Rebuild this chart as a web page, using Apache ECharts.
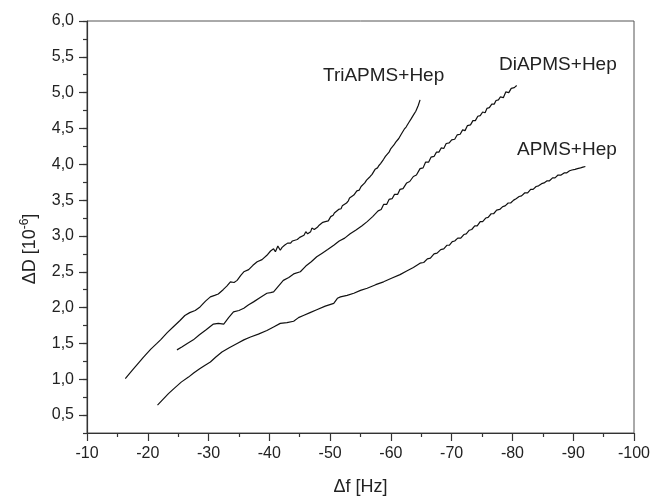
<!DOCTYPE html>
<html>
<head>
<meta charset="utf-8">
<script src="https://cdn.jsdelivr.net/npm/echarts@6/dist/echarts.min.js"></script>
<style>
html,body{margin:0;padding:0;background:#fff;}
#c{width:652px;height:496px;}
</style>
</head>
<body>
<div id="c"></div>
<script>
// ---- data (Δf [Hz], ΔD [10^-6]) ----
var seriesNames = ['TriAPMS+Hep', 'DiAPMS+Hep', 'APMS+Hep'];
var triAPMS = [
[-16.3,1.01],[-17.5,1.13],[-18.6,1.24],[-19.3,1.31],[-20.5,1.42],[-21.5,1.50],[-22.1,1.55],[-23.2,1.65],
[-24.3,1.74],[-25.3,1.82],[-26.1,1.89],[-26.9,1.93],[-27.8,1.96],[-28.6,2.01],[-29.5,2.09],[-30.3,2.15],
[-31.0,2.17],[-31.6,2.19],[-32.4,2.25],[-33.0,2.30],[-33.6,2.36],[-34.2,2.35],[-34.7,2.38],[-35.3,2.45],
[-35.8,2.50],[-36.6,2.53],[-37.3,2.59],[-38.0,2.64],[-38.8,2.67],[-39.6,2.73],[-40.2,2.79],[-40.7,2.82],
[-41.0,2.78],[-41.4,2.86],[-41.8,2.80],[-42.1,2.84],[-42.5,2.87],[-42.8,2.86],[-43.0,2.90],[-43.5,2.90],
[-43.8,2.93],[-44.0,2.91],[-44.6,2.95],[-45.0,2.98],[-45.2,2.96],[-45.7,3.01],[-46.0,3.06],[-46.3,3.03],
[-46.8,3.06],[-47.0,3.11],[-47.4,3.09],[-47.9,3.12],[-48.2,3.15],[-48.5,3.14],[-48.8,3.19],[-49.2,3.20],
[-49.5,3.22],[-49.7,3.21],[-50.1,3.27],[-50.5,3.29],[-50.7,3.32],[-51.0,3.30],[-51.4,3.37],[-51.8,3.38],
[-52.0,3.42],[-52.3,3.41],[-52.7,3.46],[-53.0,3.49],[-53.2,3.53],[-53.5,3.51],[-53.9,3.57],[-54.2,3.59],
[-54.4,3.63],[-54.8,3.64],[-55.1,3.69],[-55.3,3.67],[-55.7,3.74],[-56.0,3.78],[-56.2,3.76],[-56.6,3.83],
[-56.9,3.86],[-57.2,3.88],[-57.4,3.93],[-57.8,3.95],[-58.0,3.98],[-58.3,4.01],[-58.5,3.99],[-58.8,4.07],
[-59.1,4.11],[-59.3,4.09],[-59.7,4.17],[-60.0,4.22],[-60.2,4.20],[-60.5,4.27],[-60.8,4.31],[-61.0,4.30],
[-61.3,4.36],[-61.7,4.42],[-61.9,4.40],[-62.2,4.49],[-62.5,4.52],[-62.7,4.51],[-63.0,4.59],[-63.3,4.63],
[-63.5,4.61],[-63.8,4.70],[-64.1,4.74],[-64.3,4.72],[-64.5,4.82],[-64.8,4.90]
];
var diAPMS = [
[-24.8,1.41],[-25.6,1.45],[-26.5,1.50],[-27.5,1.55],[-28.5,1.62],[-29.6,1.69],[-30.8,1.77],[-31.6,1.78],
[-32.5,1.77],[-33.3,1.86],[-34.1,1.94],[-35.0,1.96],[-35.8,1.99],[-36.6,2.04],[-37.4,2.08],[-38.5,2.14],
[-39.6,2.20],[-40.2,2.21],[-40.7,2.22],[-41.5,2.30],[-42.3,2.38],[-43.2,2.42],[-44.0,2.47],[-45.1,2.50],
[-46.0,2.58],[-46.9,2.64],[-47.8,2.71],[-48.7,2.76],[-49.6,2.81],[-50.6,2.87],[-51.5,2.93],[-52.4,2.97],
[-53.3,3.03],[-54.2,3.08],[-55.2,3.14],[-56.1,3.20],[-57.0,3.27],[-57.9,3.35],[-58.4,3.37],[-58.8,3.44],
[-59.3,3.44],[-59.7,3.51],[-60.2,3.52],[-60.6,3.58],[-61.1,3.58],[-61.5,3.65],[-62.0,3.66],[-62.6,3.74],
[-63.1,3.76],[-63.7,3.83],[-64.2,3.85],[-64.8,3.94],[-65.3,3.95],[-65.7,4.03],[-66.2,4.03],[-66.6,4.10],
[-67.1,4.11],[-67.5,4.17],[-67.9,4.17],[-68.3,4.23],[-68.7,4.22],[-69.1,4.29],[-69.6,4.30],[-70.0,4.34],
[-70.5,4.35],[-70.9,4.41],[-71.4,4.42],[-71.8,4.48],[-72.2,4.47],[-72.6,4.54],[-73.1,4.55],[-73.5,4.61],
[-73.9,4.61],[-74.3,4.67],[-74.7,4.68],[-75.1,4.73],[-75.5,4.72],[-75.8,4.78],[-76.2,4.79],[-76.6,4.84],
[-77.0,4.84],[-77.3,4.89],[-77.7,4.90],[-78.0,4.94],[-78.5,4.93],[-78.9,5.01],[-79.4,5.00],[-79.8,5.06],
[-80.3,5.07],[-80.7,5.10]
];
var apms = [
[-21.6,0.64],[-22.5,0.72],[-23.4,0.80],[-24.3,0.87],[-25.5,0.96],[-26.7,1.03],[-27.6,1.09],[-28.6,1.15],
[-29.5,1.20],[-30.3,1.24],[-31.2,1.31],[-32.2,1.38],[-33.4,1.44],[-34.7,1.50],[-35.8,1.55],[-36.9,1.59],
[-38.2,1.63],[-39.6,1.68],[-40.7,1.73],[-41.8,1.78],[-42.9,1.79],[-44.0,1.81],[-44.8,1.86],[-45.6,1.89],
[-46.7,1.93],[-47.8,1.97],[-49.2,2.02],[-50.6,2.06],[-51.2,2.13],[-51.7,2.15],[-52.8,2.17],[-53.9,2.20],
[-55.0,2.24],[-56.1,2.27],[-57.5,2.32],[-58.8,2.36],[-60.1,2.41],[-61.5,2.46],[-62.6,2.51],[-63.7,2.56],
[-64.8,2.62],[-65.4,2.63],[-66.0,2.68],[-66.5,2.69],[-67.1,2.75],[-67.6,2.76],[-68.2,2.81],[-68.7,2.82],
[-69.2,2.87],[-69.6,2.87],[-70.1,2.92],[-70.5,2.93],[-71.0,2.97],[-71.5,2.97],[-72.0,3.02],[-72.4,3.03],
[-72.9,3.08],[-73.3,3.09],[-73.8,3.14],[-74.2,3.14],[-74.7,3.20],[-75.1,3.20],[-75.6,3.25],[-76.0,3.26],
[-76.5,3.31],[-76.9,3.31],[-77.4,3.36],[-77.9,3.37],[-78.4,3.41],[-78.8,3.42],[-79.3,3.46],[-79.7,3.46],
[-80.2,3.50],[-80.6,3.52],[-81.1,3.55],[-81.5,3.56],[-82.0,3.60],[-82.5,3.60],[-83.0,3.65],[-83.4,3.65],
[-83.9,3.69],[-84.3,3.70],[-84.8,3.73],[-85.2,3.74],[-85.7,3.77],[-86.1,3.77],[-86.6,3.81],[-87.0,3.81],
[-87.5,3.85],[-88.0,3.85],[-88.5,3.88],[-88.9,3.88],[-89.4,3.91],[-89.8,3.92],[-90.3,3.93],[-90.7,3.94],
[-91.2,3.95],[-91.6,3.96],[-92.0,3.97]
];
var yTickValues = [0.5,1.0,1.5,2.0,2.5,3.0,3.5,4.0,4.5,5.0,5.5,6.0];
var xAxisTitle = 'Δf [Hz]';
var yAxisTitle = '{a|ΔD [10}{sup|-6}{a|]}';

var FONT = '"Liberation Sans", Arial, sans-serif';
var AX = '#333';
var chart = echarts.init(document.getElementById('c'), null, {renderer: 'canvas'});
function lineSeries(name, data) {
  return {
    name: name, type: 'line', data: data, showSymbol: false, symbol: 'none',
    lineStyle: {color: '#111', width: 1.2}, animation: false, z: 3
  };
}
chart.setOption({
  animation: false,
  backgroundColor: '#fff',
  grid: {left: 87, right: 18, top: 21, bottom: 63, show: true, borderColor: '#555', borderWidth: 1,
         containLabel: false, outerBoundsMode: 'none'},
  xAxis: {
    type: 'value', min: -100, max: -10, interval: 10, inverse: true,
    name: xAxisTitle, nameLocation: 'middle', nameGap: 45,
    nameTextStyle: {fontFamily: FONT, fontSize: 18, color: '#222'},
    axisLine: {show: true, lineStyle: {color: AX, width: 1.2}},
    axisTick: {show: true, length: 8, lineStyle: {color: AX, width: 1.2}},
    minorTick: {show: true, splitNumber: 2, length: 4, lineStyle: {color: AX, width: 1.2}},
    axisLabel: {fontFamily: FONT, fontSize: 16, color: '#222', margin: 13},
    splitLine: {show: false}, minorSplitLine: {show: false}
  },
  yAxis: [{
    type: 'value', min: 0.25, max: 6, interval: 0.25, position: 'left',
    name: yAxisTitle, nameLocation: 'middle', nameGap: 46,
    nameTextStyle: {
      fontFamily: FONT, color: '#222', padding: [0, 44, 0, 0],
      rich: {
        a: {fontFamily: FONT, fontSize: 18, color: '#222'},
        sup: {fontFamily: FONT, fontSize: 12, color: '#222', padding: [0, 0, 10, 0]}
      }
    },
    axisLine: {show: true, lineStyle: {color: AX, width: 1.2}},
    axisTick: {show: true, length: 8, customValues: yTickValues, lineStyle: {color: AX, width: 1.2}},
    axisLabel: {
      fontFamily: FONT, fontSize: 16, color: '#222', margin: 13, customValues: yTickValues,
      formatter: function (v) { return v.toFixed(1).replace('.', ','); }
    },
    splitLine: {show: false}
  }, {
    type: 'value', min: 0.25, max: 6, interval: 0.25, position: 'left',
    axisLine: {show: false},
    axisTick: {show: true, length: 4, lineStyle: {color: AX, width: 1.2}},
    axisLabel: {show: false},
    splitLine: {show: false}
  }],
  series: [
    lineSeries(seriesNames[0], triAPMS),
    lineSeries(seriesNames[1], diAPMS),
    lineSeries(seriesNames[2], apms)
  ],
  graphic: [
    {type: 'text', left: 323, top: 66, style: {text: seriesNames[0], font: '19px ' + FONT, fill: '#222'}},
    {type: 'text', left: 499, top: 55, style: {text: seriesNames[1], font: '19px ' + FONT, fill: '#222'}},
    {type: 'text', left: 517, top: 140, style: {text: seriesNames[2], font: '19px ' + FONT, fill: '#222'}}
  ]
});
</script>
</body>
</html>
